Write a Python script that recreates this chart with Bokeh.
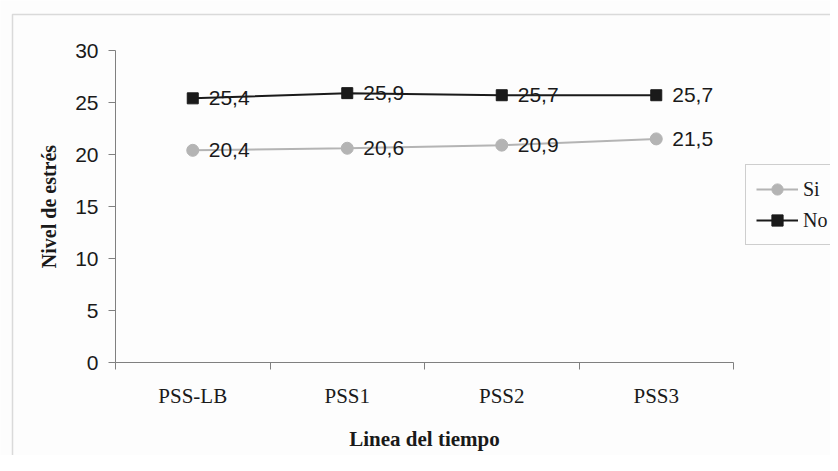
from bokeh.plotting import figure
from bokeh.models import ColumnDataSource, FixedTicker, Legend, LegendItem, BoxAnnotation
from bokeh.core.properties import value
from bokeh.embed import file_html
from bokeh.resources import INLINE

categories = ["PSS-LB", "PSS1", "PSS2", "PSS3"]
si_values = [20.4, 20.6, 20.9, 21.5]
no_values = [25.4, 25.9, 25.7, 25.7]
y_ticks = [0, 5, 10, 15, 20, 25, 30]
y_min, y_max = 0, 30

# ---- pixel layout (canvas coordinates) ----
W, H = 830, 455
AX_L, AX_R = 115, 733      # x of value axis / end of category axis
AX_T, AX_B = 50, 362       # y of y_max / y of y_min
BORDER_X, BORDER_Y = 12, 14  # outer chart border

n = len(categories)
px_x = (AX_R - AX_L) / n
px_y = (AX_B - AX_T) / (y_max - y_min)
x_start = -AX_L / px_x
x_end = (W - AX_L) / px_x
y_end = y_max + AX_T / px_y
y_start = y_min - (H - AX_B) / px_y

xs = [i + 0.5 for i in range(n)]
fmt = lambda v: f"{v:.1f}".replace(".", ",")

src_si = ColumnDataSource(dict(x=xs, y=si_values, label=[fmt(v) for v in si_values]))
src_no = ColumnDataSource(dict(x=xs, y=no_values, label=[fmt(v) for v in no_values]))

BG = "#fdfdfd"
AX = "#808080"
TXT = "#1a1a1a"

p = figure(width=W, height=H, output_backend="svg", toolbar_location=None,
           x_range=(x_start, x_end), y_range=(y_start, y_end),
           min_border=0)
p.background_fill_color = BG
p.border_fill_color = BG
p.outline_line_color = None
p.xgrid.grid_line_color = None
p.ygrid.grid_line_color = None

# outer chart border (only left/top visible, rest outside the window)
p.add_layout(BoxAnnotation(left=x_start + BORDER_X / px_x, right=x_end + 10,
                           top=y_end - BORDER_Y / px_y, bottom=y_start - 10,
                           fill_alpha=0, line_color="#8a8a8a", line_width=1.5))

# y axis
ya = p.yaxis[0]
ya.fixed_location = 0
ya.bounds = (y_min, y_max)
ya.ticker = FixedTicker(ticks=y_ticks)
ya.axis_line_color = AX
ya.major_tick_line_color = AX
ya.major_tick_out = 7
ya.major_tick_in = 0
ya.minor_tick_line_color = None
ya.major_label_text_font = "Liberation Sans"
ya.major_label_text_font_size = "21px"
ya.major_label_text_color = TXT
ya.major_label_standoff = 10
ya.axis_label = "Nivel de estrés"
ya.axis_label_text_font = "Liberation Serif"
ya.axis_label_text_font_style = "bold"
ya.axis_label_text_font_size = "20px"
ya.axis_label_text_color = TXT
ya.axis_label_standoff = 12

# x axis
xa = p.xaxis[0]
xa.fixed_location = y_min
xa.bounds = (0, n)
xa.ticker = FixedTicker(ticks=xs, minor_ticks=list(range(n + 1)))
xa.major_label_overrides = {x: c for x, c in zip(xs, categories)}
xa.axis_line_color = AX
xa.major_tick_line_color = None
xa.major_tick_out = 0
xa.major_tick_in = 0
xa.minor_tick_line_color = AX
xa.minor_tick_out = 7
xa.minor_tick_in = 0
xa.major_label_text_font = "Liberation Serif"
xa.major_label_text_font_size = "21px"
xa.major_label_text_color = TXT
xa.major_label_standoff = 14
xa.axis_label = "Linea del tiempo"
xa.axis_label_text_font = "Liberation Serif"
xa.axis_label_text_font_style = "bold"
xa.axis_label_text_font_size = "21px"
xa.axis_label_text_color = TXT
xa.axis_label_standoff = 16

SI_C = "#b4b4b4"
NO_C = "#1a1a1a"

l_si = p.line("x", "y", source=src_si, line_color=SI_C, line_width=2)
m_si = p.scatter("x", "y", source=src_si, marker="circle", size=12, fill_color=SI_C, line_color=SI_C)
l_no = p.line("x", "y", source=src_no, line_color=NO_C, line_width=2)
m_no = p.scatter("x", "y", source=src_no, marker="square", size=11, fill_color=NO_C, line_color=NO_C)

for src in (src_si, src_no):
    p.text("x", "y", text="label", source=src, x_offset=16, y_offset=0,
           text_align="left", text_baseline="middle",
           text_font=value("Liberation Sans"), text_font_size="21px", text_color=TXT)

legend = Legend(items=[LegendItem(label="Si", renderers=[l_si, m_si]),
                       LegendItem(label="No", renderers=[l_no, m_no])],
                location=(745, H - 245), orientation="vertical",
                glyph_width=42, glyph_height=28, label_height=28, label_standoff=5,
                spacing=3, padding=10, margin=0,
                label_text_font="Liberation Serif", label_text_font_size="20px",
                label_text_color=TXT,
                border_line_color="#a0a0a0", border_line_width=1,
                background_fill_color=BG, background_fill_alpha=1)
p.add_layout(legend, "center")

open("out.html", "w").write(file_html(p, INLINE))
